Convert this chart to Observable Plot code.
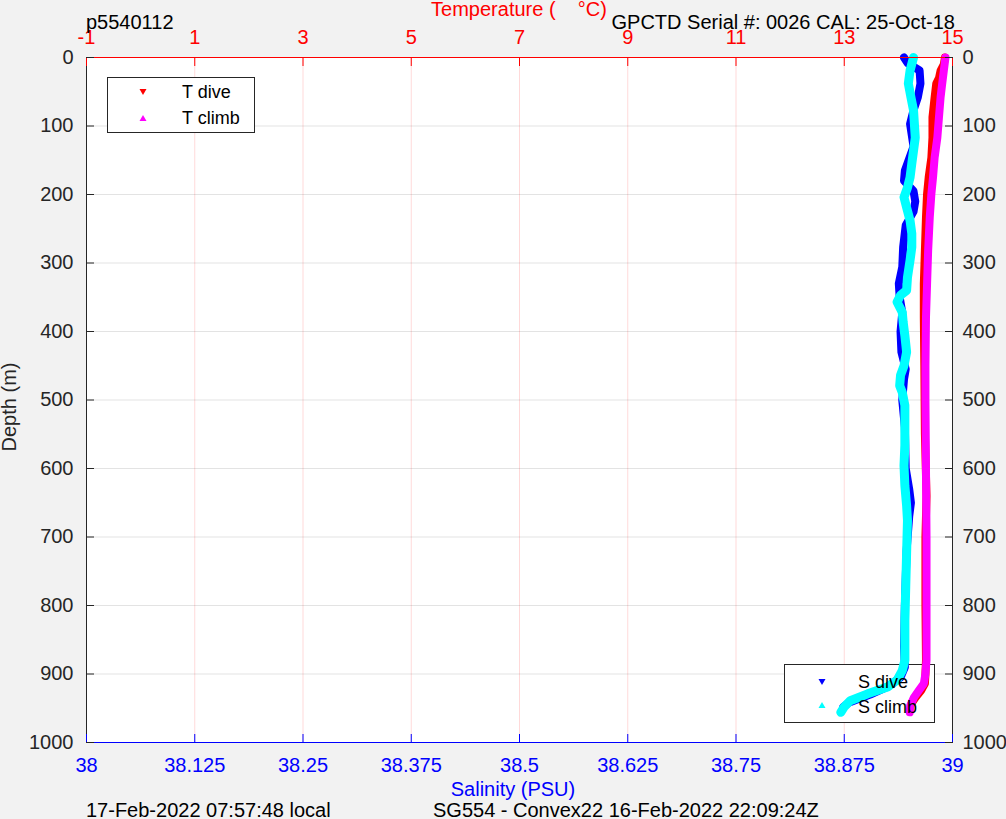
<!DOCTYPE html>
<html>
<head>
<meta charset="utf-8">
<script src="https://cdn.jsdelivr.net/npm/d3@7"></script>
<script src="https://cdn.jsdelivr.net/npm/@observablehq/plot@0.6"></script>
<style>
  html, body { margin: 0; padding: 0; background: #f2f2f2; }
  #chart { position: relative; width: 1006px; height: 819px; }
</style>
</head>
<body>
<div id="chart"></div>
<script>
// ---- axes / ticks ----
const salDomain = [38, 39];
const tempDomain = [-1, 15];
const depthDomain = [0, 1000];
const depthTicks = [0, 100, 200, 300, 400, 500, 600, 700, 800, 900, 1000];
const salTicks = [38, 38.125, 38.25, 38.375, 38.5, 38.625, 38.75, 38.875, 39];
const salLabels = ["38", "38.125", "38.25", "38.375", "38.5", "38.625", "38.75", "38.875", "39"];
const tempTicks = [-1, 1, 3, 5, 7, 9, 11, 13, 15];

// ---- series: [depth (m), value] ----
const tDive = [
  [0,14.86],[10,14.84],[19,14.78],[30,14.75],[38,14.70],[58,14.67],[87,14.63],[117,14.63],
  [146,14.61],[175,14.56],[199,14.53],[233,14.51],[282,14.49],[331,14.47],[380,14.47],
  [450,14.48],[550,14.49],[640,14.52],[700,14.50],[800,14.50],[880,14.51],[900,14.50],
  [914,14.49],[924,14.42],[934,14.32],[942,14.25]
];
const tClimb = [
  [0,14.87],[19,14.84],[38,14.81],[58,14.78],[87,14.75],[117,14.72],[146,14.67],[175,14.64],
  [199,14.61],[233,14.58],[282,14.55],[331,14.53],[380,14.51],[450,14.50],[500,14.50],
  [600,14.51],[700,14.52],[800,14.52],[880,14.52],[900,14.50],[914,14.47],[924,14.38],
  [934,14.29],[946,14.22],[956,14.21]
];
const sDive = [
  [0,38.944],[8,38.948],[19,38.962],[38,38.963],[58,38.960],[77,38.955],[97,38.951],[130,38.955],
  [165,38.945],[180,38.944],[195,38.955],[210,38.957],[225,38.955],[245,38.946],[277,38.943],
  [306,38.942],[330,38.938],[350,38.939],[372,38.942],[400,38.940],[430,38.941],[455,38.946],
  [470,38.944],[500,38.942],[540,38.945],[600,38.946],[630,38.950],[650,38.952],[670,38.950],
  [720,38.947],[800,38.945],[860,38.944],[890,38.945],[905,38.940],[918,38.926],[930,38.905],
  [942,38.880],[948,38.874]
];
const sClimb = [
  [0,38.955],[19,38.951],[38,38.949],[58,38.952],[77,38.955],[97,38.956],[117,38.957],[136,38.955],
  [155,38.953],[175,38.951],[190,38.948],[204,38.944],[219,38.947],[238,38.951],[257,38.953],
  [277,38.953],[296,38.951],[321,38.948],[340,38.947],[347,38.940],[357,38.936],[372,38.942],
  [386,38.943],[406,38.945],[430,38.947],[450,38.944],[464,38.940],[479,38.939],[489,38.942],
  [508,38.945],[537,38.945],[566,38.945],[596,38.944],[625,38.945],[654,38.947],[676,38.948],
  [724,38.947],[773,38.946],[822,38.945],[861,38.945],[880,38.945],[895,38.942],[909,38.936],
  [919,38.925],[929,38.902],[939,38.882],[948,38.875],[956,38.871]
];

// temperature is drawn on the shared x scale (salinity units)
const tempToSal = t => salDomain[0] + (t - tempDomain[0]) / (tempDomain[1] - tempDomain[0]) * (salDomain[1] - salDomain[0]);
const tempTickPos = tempTicks.map(tempToSal);

const lineOpts = {strokeLinecap: "round", strokeLinejoin: "round"};

const svg = Plot.plot({
  width: 1006,
  height: 819,
  marginLeft: 86,
  marginRight: 54,
  marginTop: 57,
  marginBottom: 77,
  style: {background: "#f2f2f2", fontFamily: "'Liberation Sans', Arial, sans-serif", fontSize: "20px"},
  x: {domain: salDomain},
  y: {domain: depthDomain, reverse: true},
  marks: [
    Plot.frame({fill: "white", stroke: null}),
    Plot.gridX(salTicks, {stroke: "#ff0000", strokeOpacity: 0.15}),
    Plot.gridY(depthTicks, {stroke: "#262626", strokeOpacity: 0.13}),
    Plot.line(tDive, {x: d => tempToSal(d[1]), y: d => d[0], stroke: "#ff0000", strokeWidth: 8, ...lineOpts}),
    Plot.line(tClimb, {x: d => tempToSal(d[1]), y: d => d[0], stroke: "#ff00ff", strokeWidth: 8, ...lineOpts}),
    Plot.line(sDive, {x: d => d[1], y: d => d[0], stroke: "#0000ff", strokeWidth: 8, ...lineOpts}),
    Plot.line(sClimb, {x: d => d[1], y: d => d[0], stroke: "#00ffff", strokeWidth: 9, ...lineOpts}),
    Plot.ruleX([salDomain[0], salDomain[1]], {stroke: "#262626"}),
    Plot.ruleY([depthDomain[0]], {stroke: "#ff0000"}),
    Plot.ruleY([depthDomain[1]], {stroke: "#0000ff"}),
    Plot.axisY(depthTicks, {anchor: "left", tickSize: -8, tickPadding: 21, color: "#262626", label: null, fontSize: 20,
      tickFormat: d => `${d}`}),
    Plot.axisY(depthTicks, {anchor: "right", tickSize: -8, tickPadding: 18, color: "#262626", label: null, fontSize: 20,
      tickFormat: d => `${d}`}),
    Plot.axisX(salTicks, {anchor: "bottom", tickSize: -8, tickPadding: 23, color: "#0000ff", label: null, fontSize: 20,
      tickFormat: d => salLabels[salTicks.indexOf(d)]}),
    Plot.axisX(tempTickPos, {anchor: "top", tickSize: -8, tickPadding: 22, color: "#ff0000", label: null, fontSize: 20,
      tickFormat: d => String(tempTicks[tempTickPos.indexOf(d)])})
  ]
});
document.getElementById("chart").appendChild(svg);

// ---- titles, labels, legends ----
const g = d3.select(svg).append("g").style("white-space", "pre");
function txt(x, y, s, opts = {}) {
  const t = g.append("text").attr("x", x).attr("y", y).text(s)
    .attr("fill", opts.fill || "#000").attr("font-size", opts.size || 20)
    .attr("text-anchor", opts.anchor || "start");
  if (opts.transform) t.attr("transform", opts.transform);
  return t;
}
txt(519, 16, "Temperature (    °C)", {fill: "#ff0000", anchor: "middle"});
txt(86, 29, "p5540112");
txt(955, 29, "GPCTD Serial #: 0026 CAL: 25-Oct-18", {anchor: "end"});
txt(0, 0, "Depth (m)", {fill: "#262626", anchor: "middle", transform: "translate(16,407) rotate(-90)"});
txt(513, 796, "Salinity (PSU)", {fill: "#0000ff", anchor: "middle"});
txt(86, 817, "17-Feb-2022 07:57:48 local");
txt(433, 817, "SG554 - Convex22 16-Feb-2022 22:09:24Z");

// legend boxes sit beneath the data lines (as in the reference); markers and labels on top
const firstLine = svg.querySelector('[aria-label="line"]');
const boxLayer = d3.select(svg.insertBefore(document.createElementNS("http://www.w3.org/2000/svg", "g"), firstLine));
function legend(x, y, w, h, items) {
  boxLayer.append("rect").attr("x", x + 0.5).attr("y", y + 0.5).attr("width", w).attr("height", h)
    .attr("fill", "white").attr("stroke", "#262626");
  items.forEach(it => {
    const p = it.down
      ? `M${it.mx - 3.5},${it.my - 3}L${it.mx + 3.5},${it.my - 3}L${it.mx},${it.my + 3}Z`
      : `M${it.mx - 3.5},${it.my + 3}L${it.mx + 3.5},${it.my + 3}L${it.mx},${it.my - 3}Z`;
    g.append("path").attr("d", p).attr("fill", it.color);
    txt(it.tx, it.ty, it.label, {size: 18});
  });
}
legend(107, 77, 147, 55, [
  {label: "T dive", color: "#ff0000", down: true, mx: 143, my: 92, tx: 182, ty: 98},
  {label: "T climb", color: "#ff00ff", down: false, mx: 143, my: 118, tx: 182, ty: 124}
]);
legend(784, 664, 150, 58, [
  {label: "S dive", color: "#0000ff", down: true, mx: 822, my: 682, tx: 858, ty: 688},
  {label: "S climb", color: "#00ffff", down: false, mx: 822, my: 705, tx: 858, ty: 713}
]);
</script>
</body>
</html>
